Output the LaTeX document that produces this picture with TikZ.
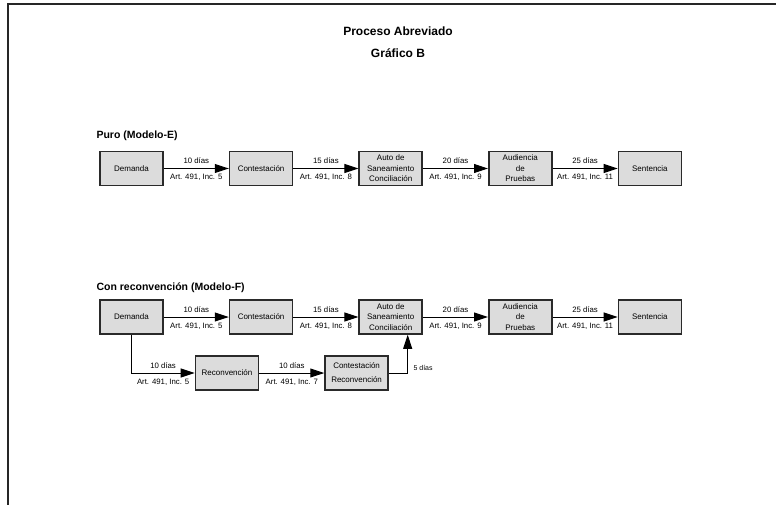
\documentclass[tikz,border=0pt]{standalone}
\usepackage{fontspec}
\setmainfont{Liberation Sans}
\usepackage{xcolor}
\usetikzlibrary{arrows.meta,positioning}
\definecolor{etapafill}{HTML}{DCDCDC}
\definecolor{etapaedge}{HTML}{2A2A2A}

\begin{document}
\begin{tikzpicture}[x=1pt,y=-1pt,>={Triangle[length=14pt,width=9pt]},
  etapa/.style={draw=etapaedge,fill=etapafill,line width=1.6pt,minimum width=63pt,minimum height=34pt,inner sep=1pt,align=center,font=\fontsize{8}{10.5}\selectfont},
  paso/.style={->,line width=1pt},
  plazo/.style={font=\fontsize{7.8}{9}\selectfont,above=1pt},
  norma/.style={font=\fontsize{7.8}{9}\selectfont,below=2pt},
  seccion/.style={font=\fontsize{10.5}{12}\selectfont\bfseries,anchor=west}]
 \useasboundingbox (0,0) rectangle (776,505);
 \draw[line width=2.2pt,black!85] (776,4) -- (8,4) -- (8,505);
 \node[font=\fontsize{12}{14}\selectfont\bfseries] (titulo) at (398,31) {Proceso Abreviado};
 \node[font=\fontsize{12}{14}\selectfont\bfseries] (grafico) at (398,53) {Gráfico B};
 % Modelo-E
 \node[seccion] (puro) at (93,136) {Puro (Modelo-E)};
 \node[etapa] (dem1) at (131.5,168.5) {Demanda};
 \node[etapa,right=65pt of dem1] (con1) {Contestación};
 \node[etapa,right=65pt of con1] (auto1) {Auto de\\Saneamiento\\Conciliación};
 \node[etapa,right=65pt of auto1] (aud1) {Audiencia\\de\\Pruebas};
 \node[etapa,right=65pt of aud1] (sen1) {Sentencia};
 \draw[paso] (dem1) -- node[plazo]{10 días} node[norma]{Art. 491, Inc. 5} (con1);
 \draw[paso] (con1) -- node[plazo]{15 días} node[norma]{Art. 491, Inc. 8} (auto1);
 \draw[paso] (auto1) -- node[plazo]{20 días} node[norma]{Art. 491, Inc. 9} (aud1);
 \draw[paso] (aud1) -- node[plazo]{25 días} node[norma]{Art. 491, Inc. 11} (sen1);
 % Modelo-F
 \node[seccion] (reconv) at (93,288) {Con reconvención (Modelo-F)};
 \node[etapa] (dem2) at (131.5,317) {Demanda};
 \node[etapa,right=65pt of dem2] (con2) {Contestación};
 \node[etapa,right=65pt of con2] (auto2) {Auto de\\Saneamiento\\Conciliación};
 \node[etapa,right=65pt of auto2] (aud2) {Audiencia\\de\\Pruebas};
 \node[etapa,right=65pt of aud2] (sen2) {Sentencia};
 \node[etapa] (rec) at (227,373) {Reconvención};
 \node[etapa,right=65pt of rec] (crec) {Contestación\\[3.5pt]Reconvención};
 \draw[paso] (dem2) -- node[plazo]{10 días} node[norma]{Art. 491, Inc. 5} (con2);
 \draw[paso] (con2) -- node[plazo]{15 días} node[norma]{Art. 491, Inc. 8} (auto2);
 \draw[paso] (auto2) -- node[plazo]{20 días} node[norma]{Art. 491, Inc. 9} (aud2);
 \draw[paso] (aud2) -- node[plazo]{25 días} node[norma]{Art. 491, Inc. 11} (sen2);
 \draw[paso] (dem2.south) |- node[plazo,pos=.75]{10 días} node[norma,pos=.75]{Art. 491, Inc. 5} (rec);
 \draw[paso] (rec) -- node[plazo]{10 días} node[norma]{Art. 491, Inc. 7} (crec);
 \draw[paso] (crec.east) -| node[pos=.56,right=2pt,font=\fontsize{7}{8}\selectfont]{5 días} ([xshift=17pt]auto2.south);
\end{tikzpicture}
\end{document}
